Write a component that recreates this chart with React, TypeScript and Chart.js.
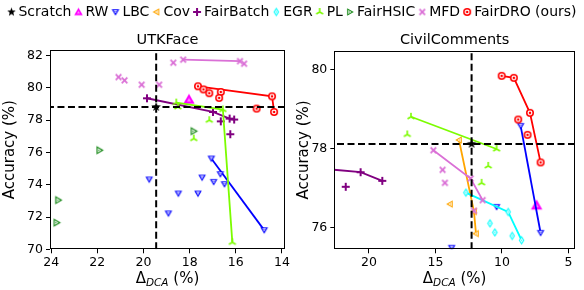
import React, { useEffect, useRef } from "react";
import { Chart, registerables } from "chart.js";
Chart.register(...registerables);

const FAMILY = "DejaVu Sans";
const CSSFONT = "'DejaVu Sans', sans-serif";

type Pt = [number, number];

// ---------- Legend ----------
const METHOD_LABELS = ["Scratch", "RW", "LBC", "Cov", "FairBatch", "EGR", "PL", "FairHSIC", "MFD", "FairDRO (ours)"];
const METHOD_COLORS = ["#000000", "#ff00ff", "#0000ff", "#ffa500", "#800080", "#00ffff", "#7cfc00", "#1a8a1a", "#da70d6", "#ff0000"];

// ---------- UTKFace ----------
const UTK_X_TICKS = [24, 22, 20, 18, 16, 14];
const UTK_Y_TICKS = [70, 72, 74, 76, 78, 80, 82];
const UTK_SCRATCH: Pt[] = [[19.45, 78.82]];
const UTK_RW: Pt[] = [[18.03, 79.28]];
const UTK_LBC_LINE: Pt[] = [[17.06, 75.63], [14.77, 71.19]];
const UTK_LBC_PTS: Pt[] = [[19.75, 74.33], [18.92, 72.23], [18.49, 73.46], [17.64, 73.46], [17.46, 74.45], [16.96, 74.18], [16.67, 74.66], [16.49, 74.04]];
const UTK_FAIRBATCH_LINE: Pt[] = [[19.85, 79.36], [16.99, 78.51], [16.27, 78.1], [16.07, 78.04]];
const UTK_FAIRBATCH_PTS: Pt[] = [[16.65, 77.93], [16.24, 77.13]];
const UTK_PL_LINE: Pt[] = [[18.58, 79.09], [16.56, 78.66], [16.15, 70.43]];
const UTK_PL_PTS: Pt[] = [[18.51, 78.82], [17.15, 78.0], [17.82, 76.86]];
const UTK_FAIRHSIC_PTS: Pt[] = [[17.82, 77.32], [21.9, 76.14], [23.69, 73.05], [23.76, 71.65]];
const UTK_MFD_LINE: Pt[] = [[18.28, 81.75], [15.82, 81.66]];
const UTK_MFD_PTS: Pt[] = [[21.08, 80.67], [20.82, 80.47], [20.08, 80.2], [19.32, 80.2], [18.71, 81.56], [15.64, 81.5]];
const UTK_FAIRDRO_LINE: Pt[] = [[17.64, 80.1], [14.43, 79.48], [14.34, 78.51]];
const UTK_FAIRDRO_PTS: Pt[] = [[17.4, 79.91], [17.15, 79.67], [16.65, 79.75], [16.72, 79.38], [15.1, 78.72]];

// ---------- CivilComments ----------
const CC_X_TICKS = [20, 15, 10, 5];
const CC_Y_TICKS = [76, 78, 80];
const CC_SCRATCH: Pt[] = [[12.28, 78.12]];
const CC_RW: Pt[] = [[7.39, 76.56]];
const CC_LBC_LINE: Pt[] = [[8.59, 78.58], [7.09, 75.86]];
const CC_LBC_PTS: Pt[] = [[10.4, 76.52], [13.78, 75.48]];
const CC_COV_LINE: Pt[] = [[13.23, 78.22], [12.1, 76.4], [11.95, 75.84]];
const CC_COV_PTS: Pt[] = [[13.91, 76.59]];
const CC_FAIRBATCH_LINE: Pt[] = [[24.5, 77.52], [20.63, 77.4], [19.0, 77.18]];
const CC_FAIRBATCH_PTS: Pt[] = [[21.75, 77.03]];
const CC_EGR_LINE: Pt[] = [[12.71, 76.88], [9.53, 76.39], [8.52, 75.67]];
const CC_EGR_PTS: Pt[] = [[10.9, 76.1], [10.53, 75.87], [9.23, 75.78]];
const CC_PL_LINE: Pt[] = [[16.84, 78.81], [10.4, 77.99]];
const CC_PL_PTS: Pt[] = [[17.12, 78.36], [11.03, 77.56], [11.53, 77.13]];
const CC_MFD_LINE: Pt[] = [[15.16, 77.96], [12.35, 77.24], [11.45, 76.69]];
const CC_MFD_PTS: Pt[] = [[14.46, 77.46], [14.29, 77.13], [12.1, 76.42]];
const CC_FAIRDRO_LINE: Pt[] = [[10.02, 79.85], [9.1, 79.8], [7.89, 78.91], [7.09, 77.65]];
const CC_FAIRDRO_PTS: Pt[] = [[8.77, 78.74], [8.07, 78.35]];

// ---------- Markers ----------
function polygon(g: CanvasRenderingContext2D, cx: number, cy: number, R: number, startDeg: number, n: number) {
  g.beginPath();
  for (let i = 0; i < n; i++) {
    const a = ((startDeg + (360 / n) * i) * Math.PI) / 180;
    const x = cx + R * Math.cos(a);
    const y = cy + R * Math.sin(a);
    if (i === 0) g.moveTo(x, y);
    else g.lineTo(x, y);
  }
  g.closePath();
}

// shiftX lets the legend glyph sit closer to its text
function makeMarker(kind: string, color: string, size: number, shiftX = 0): HTMLCanvasElement {
  const S = Math.ceil(size + 4 + Math.abs(shiftX) * 2);
  const c = document.createElement("canvas");
  c.width = S;
  c.height = S;
  const g = c.getContext("2d")!;
  const cx = S / 2 + shiftX;
  const cy = S / 2;
  const R = size / 2;
  g.lineCap = "butt";
  if (kind.startsWith("tri")) {
    const start = kind === "triUp" ? -90 : kind === "triDown" ? 90 : kind === "triLeft" ? 180 : 0;
    const oy = kind === "triUp" ? R * 0.15 : kind === "triDown" ? -R * 0.15 : 0;
    const ox = kind === "triLeft" ? R * 0.15 : kind === "triRight" ? -R * 0.15 : 0;
    g.fillStyle = color;
    polygon(g, cx + ox, cy + oy, R * 1.1, start, 3);
    g.fill();
    g.fillStyle = "#ffffff";
    polygon(g, cx + ox, cy + oy, R * 0.55, start, 3);
    g.fill();
    g.fillStyle = color;
    polygon(g, cx + ox, cy + oy, R * 0.22, start, 3);
    g.fill();
  } else if (kind === "rw") {
    g.fillStyle = color;
    polygon(g, cx, cy + R * 0.15, R * 1.1, -90, 3);
    g.fill();
    g.fillStyle = "#ff88ff";
    polygon(g, cx, cy + R * 0.15, R * 0.4, -90, 3);
    g.fill();
  } else if (kind === "circle") {
    g.fillStyle = color;
    g.beginPath();
    g.arc(cx, cy, R, 0, Math.PI * 2);
    g.fill();
    g.fillStyle = "#ffffff";
    g.beginPath();
    g.arc(cx, cy, R * 0.62, 0, Math.PI * 2);
    g.fill();
    g.fillStyle = color;
    g.beginPath();
    g.arc(cx, cy, R * 0.32, 0, Math.PI * 2);
    g.fill();
  } else if (kind === "diamond") {
    const w = R * 0.62;
    const h = R;
    const dia = (k: number) => {
      g.beginPath();
      g.moveTo(cx, cy - h * k);
      g.lineTo(cx + w * k, cy);
      g.lineTo(cx, cy + h * k);
      g.lineTo(cx - w * k, cy);
      g.closePath();
      g.fill();
    };
    g.fillStyle = color;
    dia(1);
    g.fillStyle = "#ffffff";
    dia(0.55);
    g.fillStyle = color;
    dia(0.2);
  } else if (kind === "plus") {
    g.strokeStyle = color;
    g.lineWidth = 2;
    g.beginPath();
    g.moveTo(cx - R, cy);
    g.lineTo(cx + R, cy);
    g.moveTo(cx, cy - R);
    g.lineTo(cx, cy + R);
    g.stroke();
  } else if (kind === "x") {
    g.strokeStyle = color;
    g.lineWidth = 1.8;
    const r = R * 0.8;
    g.beginPath();
    g.moveTo(cx - r, cy - r);
    g.lineTo(cx + r, cy + r);
    g.moveTo(cx + r, cy - r);
    g.lineTo(cx - r, cy + r);
    g.stroke();
  } else if (kind === "y") {
    g.strokeStyle = color;
    g.lineWidth = 1.6;
    g.beginPath();
    for (const deg of [-90, 30, 150]) {
      const a = (deg * Math.PI) / 180;
      g.moveTo(cx, cy);
      g.lineTo(cx + R * Math.cos(a), cy + R * Math.sin(a));
    }
    g.stroke();
  } else if (kind === "star") {
    g.fillStyle = color;
    g.beginPath();
    for (let i = 0; i < 10; i++) {
      const rr = i % 2 === 0 ? R : R * 0.42;
      const a = ((-90 + 36 * i) * Math.PI) / 180;
      const x = cx + rr * Math.cos(a);
      const y = cy + rr * Math.sin(a);
      if (i === 0) g.moveTo(x, y);
      else g.lineTo(x, y);
    }
    g.closePath();
    g.fill();
  }
  return c;
}

const MARKER_KINDS = ["star", "rw", "triDown", "triLeft", "plus", "diamond", "y", "triRight", "x", "circle"];
const MARKER_SIZES = [10, 12, 8, 8, 8, 9, 8, 9, 7, 8];
const LEGEND_SIZES = [9, 9, 8, 8, 8, 9, 8, 8, 7, 8];

// ---------- Panel ----------
interface Series {
  m: number;
  line?: Pt[];
  pts?: Pt[];
}
interface Panel {
  title: string;
  xMin: number;
  xMax: number;
  yMin: number;
  yMax: number;
  xTicks: number[];
  yTicks: number[];
  scratch: Pt[];
  series: Series[];
  yAxisWidth: number;
  padRight: number;
  padTop: number;
  yLabelX: number;
}

const toXY = (p: Pt[]) => p.map(([x, y]) => ({ x, y }));

function buildDatasets(p: Panel, markers: HTMLCanvasElement[]) {
  const list: any[] = [];
  for (const s of p.series) {
    const color = METHOD_COLORS[s.m];
    if (s.line) {
      list.push({
        data: toXY(s.line),
        showLine: true,
        borderColor: color,
        backgroundColor: color,
        borderWidth: 1.8,
        pointStyle: markers[s.m],
        pointRadius: 5,
        pointHoverRadius: 5,
        clip: 0,
      });
    }
    if (s.pts) {
      list.push({
        data: toXY(s.pts),
        showLine: false,
        borderColor: color,
        backgroundColor: color,
        pointStyle: markers[s.m],
        pointRadius: 5,
        pointHoverRadius: 5,
        clip: 0,
      });
    }
  }
  const vx = p.scratch[0][0];
  const hy = p.scratch[0][1];
  const dash = { borderColor: "#000", borderWidth: 2, borderDash: [7, 3.5], pointRadius: 0, showLine: true, clip: 0 };
  list.push({ ...dash, data: [{ x: p.xMin, y: hy }, { x: p.xMax, y: hy }] });
  list.push({ ...dash, data: [{ x: vx, y: p.yMin }, { x: vx, y: p.yMax }] });
  list.push({
    data: toXY(p.scratch),
    showLine: false,
    pointStyle: markers[0],
    pointRadius: 5,
    borderColor: "#000",
    backgroundColor: "#000",
    clip: 0,
  });
  // Chart.js draws dataset index 0 last (on top), so reverse the plotting order
  return list.reverse();
}

function decorPlugin(p: Panel) {
  return {
    id: "decor",
    afterDraw(chart: any) {
      const { ctx, chartArea: a } = chart;
      ctx.save();
      ctx.strokeStyle = "#000";
      ctx.lineWidth = 1;
      const l = Math.round(a.left) + 0.5;
      const t = Math.round(a.top) + 0.5;
      const r = Math.round(a.right) - 0.5;
      const b = Math.round(a.bottom) - 0.5;
      ctx.strokeRect(l, t, r - l, b - t);
      ctx.fillStyle = "#000";
      // title
      ctx.font = `14.5px ${CSSFONT}`;
      ctx.textAlign = "center";
      ctx.textBaseline = "alphabetic";
      ctx.fillText(p.title, (a.left + a.right) / 2, 22);
      // x label with subscript
      const parts = [
        { t: "Δ", f: `15px ${CSSFONT}`, dy: 0 },
        { t: "DCA", f: `italic 10.5px ${CSSFONT}`, dy: 3 },
        { t: " (%)", f: `15px ${CSSFONT}`, dy: 0 },
      ];
      let total = 0;
      const widths = parts.map((q) => {
        ctx.font = q.f;
        const w = ctx.measureText(q.t).width;
        total += w;
        return w;
      });
      let x = (a.left + a.right) / 2 - total / 2;
      ctx.textAlign = "left";
      const base = 261;
      parts.forEach((q, i) => {
        ctx.font = q.f;
        ctx.fillText(q.t, x, base + q.dy);
        x += widths[i];
      });
      // y label
      ctx.translate(p.yLabelX, (a.top + a.bottom) / 2);
      ctx.rotate(-Math.PI / 2);
      ctx.font = `15px ${CSSFONT}`;
      ctx.textAlign = "center";
      ctx.textBaseline = "middle";
      ctx.fillText("Accuracy (%)", 0, 0);
      ctx.restore();
    },
  };
}

function panelConfig(p: Panel, markers: HTMLCanvasElement[]): any {
  const tickFont = { family: FAMILY, size: 12.5 };
  return {
    type: "scatter",
    data: { datasets: buildDatasets(p, markers) },
    options: {
      animation: false,
      responsive: false,
      events: [],
      layout: { padding: { left: 0, right: p.padRight, top: p.padTop, bottom: 0 } },
      plugins: { legend: { display: false }, tooltip: { enabled: false }, title: { display: false } },
      scales: {
        x: {
          type: "linear",
          reverse: true,
          min: p.xMin,
          max: p.xMax,
          afterBuildTicks: (s: any) => {
            s.ticks = p.xTicks.map((v) => ({ value: v }));
          },
          afterFit: (s: any) => {
            s.height = 40.7;
          },
          grid: { drawOnChartArea: false, drawTicks: true, tickLength: 4, color: "#000", lineWidth: 1 },
          border: { display: false },
          ticks: { font: tickFont, color: "#000", padding: 2, maxRotation: 0, autoSkip: false },
        },
        y: {
          type: "linear",
          min: p.yMin,
          max: p.yMax,
          afterBuildTicks: (s: any) => {
            s.ticks = p.yTicks.map((v) => ({ value: v }));
          },
          afterFit: (s: any) => {
            s.width = p.yAxisWidth;
          },
          grid: { drawOnChartArea: false, drawTicks: true, tickLength: 4, color: "#000", lineWidth: 1 },
          border: { display: false },
          ticks: { font: tickFont, color: "#000", padding: 3, autoSkip: false },
        },
      },
    },
    plugins: [decorPlugin(p)],
  };
}

const UTK: Panel = {
  title: "UTKFace",
  xMin: 13.87,
  xMax: 24.05,
  yMin: 70,
  yMax: 82.35,
  xTicks: UTK_X_TICKS,
  yTicks: UTK_Y_TICKS,
  scratch: UTK_SCRATCH,
  series: [
    { m: 1, pts: UTK_RW },
    { m: 2, line: UTK_LBC_LINE, pts: UTK_LBC_PTS },
    { m: 4, line: UTK_FAIRBATCH_LINE, pts: UTK_FAIRBATCH_PTS },
    { m: 6, line: UTK_PL_LINE, pts: UTK_PL_PTS },
    { m: 7, pts: UTK_FAIRHSIC_PTS },
    { m: 8, line: UTK_MFD_LINE, pts: UTK_MFD_PTS },
    { m: 9, line: UTK_FAIRDRO_LINE, pts: UTK_FAIRDRO_PTS },
  ],
  yAxisWidth: 50,
  padRight: 5,
  padTop: 28,
  yLabelX: 10,
};

const CC: Panel = {
  title: "CivilComments",
  xMin: 4.5,
  xMax: 22.61,
  yMin: 75.44,
  yMax: 80.49,
  xTicks: CC_X_TICKS,
  yTicks: CC_Y_TICKS,
  scratch: CC_SCRATCH,
  series: [
    { m: 1, pts: CC_RW },
    { m: 2, line: CC_LBC_LINE, pts: CC_LBC_PTS },
    { m: 3, line: CC_COV_LINE, pts: CC_COV_PTS },
    { m: 4, line: CC_FAIRBATCH_LINE, pts: CC_FAIRBATCH_PTS },
    { m: 5, line: CC_EGR_LINE, pts: CC_EGR_PTS },
    { m: 6, line: CC_PL_LINE, pts: CC_PL_PTS },
    { m: 8, line: CC_MFD_LINE, pts: CC_MFD_PTS },
    { m: 9, line: CC_FAIRDRO_LINE, pts: CC_FAIRDRO_PTS },
  ],
  yAxisWidth: 42.3,
  padRight: 9,
  padTop: 28.7,
  yLabelX: 12,
};

export default function App() {
  const legendRef = useRef<HTMLCanvasElement>(null);
  const leftRef = useRef<HTMLCanvasElement>(null);
  const rightRef = useRef<HTMLCanvasElement>(null);

  useEffect(() => {
    const markers = MARKER_KINDS.map((k, i) => makeMarker(k, METHOD_COLORS[i], MARKER_SIZES[i]));
    const legendMarkers = MARKER_KINDS.map((k, i) => makeMarker(k, METHOD_COLORS[i], LEGEND_SIZES[i], 2));
    const charts: Chart[] = [];

    charts.push(new Chart(leftRef.current!, panelConfig(UTK, markers)));
    charts.push(new Chart(rightRef.current!, panelConfig(CC, markers)));

    charts.push(
      new Chart(legendRef.current!, {
        type: "scatter",
        data: {
          datasets: METHOD_LABELS.map((label, i) => ({
            label,
            data: [],
            pointStyle: legendMarkers[i] as any,
            borderColor: METHOD_COLORS[i],
            backgroundColor: METHOD_COLORS[i],
          })),
        },
        options: {
          animation: false,
          responsive: false,
          events: [],
          layout: { padding: 0 },
          scales: { x: { display: false }, y: { display: false } },
          plugins: {
            tooltip: { enabled: false },
            legend: {
              display: true,
              position: "top",
              align: "center",
              labels: {
                usePointStyle: true,
                pointStyleWidth: 4,
                padding: 3,
                color: "#000",
                font: { family: FAMILY, size: 14, lineHeight: 1 },
              },
            },
          },
        },
      } as any)
    );

    return () => charts.forEach((c) => c.destroy());
  }, []);

  return (
    <div style={{ position: "absolute", left: 0, top: 0, width: 584, height: 290, background: "#fff", overflow: "hidden" }}>
      <canvas ref={leftRef} width={292} height={268} style={{ position: "absolute", left: 0, top: 22, width: 292, height: 268 }} />
      <canvas ref={rightRef} width={292} height={268} style={{ position: "absolute", left: 292, top: 22, width: 292, height: 268 }} />
      <canvas ref={legendRef} width={584} height={70} style={{ position: "absolute", left: 0, top: 2, width: 584, height: 70, pointerEvents: "none" }} />
    </div>
  );
}
